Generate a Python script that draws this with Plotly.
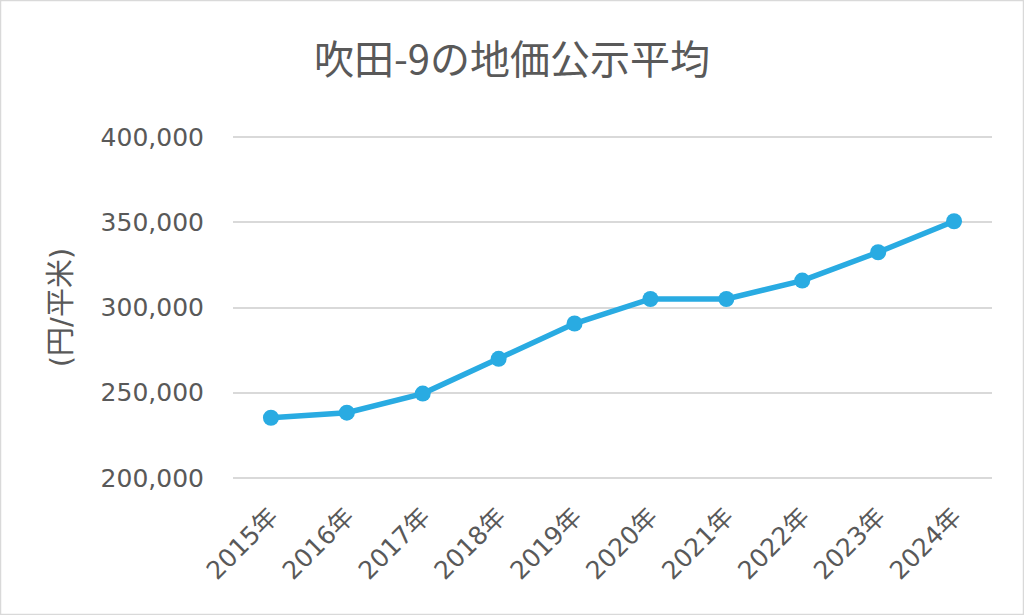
import plotly.graph_objects as go

years = ["2015年", "2016年", "2017年", "2018年", "2019年", "2020年", "2021年", "2022年", "2023年", "2024年"]
prices = [235300, 238300, 249500, 269900, 290600, 305000, 305000, 315800, 332400, 350600]
y_ticks = [200000, 250000, 300000, 350000, 400000]
y_tick_labels = ["200,000", "250,000", "300,000", "350,000", "400,000"]

W, H = 1024, 615
ml, mr, mt, mb = 233, 32, 135, 135
pw, ph = W - ml - mr, H - mt - mb

fig = go.Figure()
fig.add_trace(go.Scatter(
    x=years, y=prices, mode="lines+markers",
    line=dict(color="#29ABE2", width=5.5),
    marker=dict(color="#29ABE2", size=16),
    showlegend=False,
))

fig.update_layout(
    width=W, height=H,
    margin=dict(l=ml, r=mr, t=mt, b=mb),
    paper_bgcolor="white", plot_bgcolor="white",
    title=dict(text="吹田-9の地価公示平均", x=0.5, xref="container", xanchor="center",
               y=0.902, yref="container", yanchor="middle",
               font=dict(family="Noto Sans CJK JP", size=40, color="#595959")),
    font=dict(family="DejaVu Sans", color="#595959"),
    xaxis=dict(type="category", range=[-0.5, 9.5], tickangle=-45, showgrid=False, showline=False,
               ticks="", ticklabelstandoff=16,
               tickfont=dict(family="DejaVu Sans, Noto Sans CJK JP", size=25, color="#595959")),
    yaxis=dict(range=[198800, 401200], tickvals=y_ticks, ticktext=y_tick_labels,
               showgrid=True, gridcolor="#D9D9D9", gridwidth=1.5, zeroline=False,
               showline=False, ticks="", ticklabelstandoff=28,
               tickfont=dict(family="DejaVu Sans", size=25, color="#595959"),
               title=dict(text="(円/平米)", standoff=20,
                          font=dict(family="DejaVu Sans, Noto Sans CJK JP", size=29, color="#595959"))),
)

fig.add_shape(type="rect", xref="paper", yref="paper",
              x0=-ml / pw + 0.5 / pw, x1=1 + mr / pw - 0.5 / pw,
              y0=-mb / ph + 0.5 / ph, y1=1 + mt / ph - 0.5 / ph,
              line=dict(color="#D9D9D9", width=1.5), layer="below")

fig.write_html("out.html", config={"displayModeBar": False},
               post_script="document.body.style.margin='0';")
